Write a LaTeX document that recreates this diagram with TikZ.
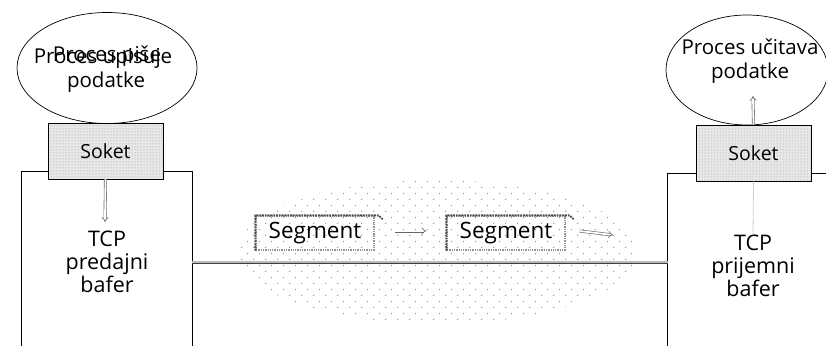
\documentclass[tikz,border=0pt]{standalone}
\usepackage{fontspec}
\setmainfont{Open Sans}
\usetikzlibrary{shapes.geometric,patterns,patterns.meta,arrows.meta,calc}

% sparse stipple used for the network cloud
\tikzdeclarepattern{
  name=sparsedots, type=uncolored,
  bounding box={(0pt,0pt) and (12pt,12pt)},
  tile size={(12pt,12pt)},
  code={
    \fill (2pt,3pt) circle (0.7pt);
    \fill (8pt,9pt) circle (0.65pt);
  }
}

\tikzset{
  txt/.style={font=\fontsize{20.5}{24}\selectfont, align=center, inner sep=0pt},
  buftxt/.style={font=\fontsize{21.5}{23}\selectfont, align=center, inner sep=0pt},
  proc/.style={ellipse, draw, line width=0.7pt, inner sep=0pt},
  sockbox/.style={draw, line width=0.9pt, minimum width=115pt, minimum height=56pt,
    inner sep=0pt, font=\fontsize{19.5}{23}\selectfont,
    preaction={fill=white}, preaction={fill=gray!18},
    pattern=dots, pattern color=gray!85},
  buf/.style={inner sep=0pt},
  segbox/.style={draw=gray!85, densely dotted, line width=1.3pt,
    minimum width=118pt, minimum height=34pt, inner sep=0pt,
    font=\fontsize{22.5}{26}\selectfont},
  segedge/.style={draw=black!70, densely dotted, line width=1.8pt},
  flow/.style={draw=black!60, double=white, double distance=1.8pt, line width=0.6pt,
    -{Implies[length=6pt]}},
  link/.style={draw=black!75, double=gray!55, double distance=1.6pt, line width=0.7pt},
}

\begin{document}
\begin{tikzpicture}[x=1pt, y=-1pt]
\useasboundingbox (0,0) rectangle (826,345);

% network cloud
\fill[pattern=sparsedots, pattern color=gray!95] (437,252) ellipse [x radius=200, y radius=72];

% sending side
\node[buf, minimum width=170pt, minimum height=180pt] (lbuf) at (107,262) {};
\draw[line width=0.9pt] (lbuf.south west) -- (lbuf.north west) -- (lbuf.north east) -- (lbuf.south east);
\draw[gray!55, line width=0.6pt] ([yshift=-10pt]lbuf.south west) -- ([yshift=-10pt]lbuf.south east);

\node[proc, minimum width=180pt, minimum height=111pt] (pw) at (107,68) {};
\node[txt] (pw1) at (103,58) {Proces upisuje};
\node[txt] (pw2) at (107,56) {Proces piše};
\node[txt] (pw3) at (106,82) {podatke};
\node[sockbox] (lsok) at (105.5,151) {Soket};
\node[buftxt] (ltxt) at (107,262) {TCP\\predajni\\bafer};
\coordinate (ldrop) at (105,222);

% receiving side
\node[buf, minimum width=200pt, minimum height=176pt] (rbuf) at (768,262) {};
\draw[line width=0.9pt] (rbuf.south west) -- (rbuf.north west) -- (rbuf.north east);

\node[proc, minimum width=162pt, minimum height=110pt] (pr) at (747,70) {};
\node[txt] (pr1) at (750,61) {Proces učitava\\podatke};
\node[sockbox] (rsok) at (753.5,153) {Soket};
\node[buftxt] (rtxt) at (753,266) {TCP\\prijemni\\bafer};
\coordinate (rrise) at (753,96);

% link between the buffers
\draw[link] (lbuf.east) -- (rbuf.west);

% segments in transit, with a heavier top and left edge
\node[segbox] (s1) at (315,233) {Segment};
\node[segbox] (s2) at (506,233) {Segment};
\draw[segedge] (s1.south west) -- (s1.north west) -- ([xshift=4pt]s1.north east) -- ([xshift=8pt, yshift=-4pt]s1.north east);
\draw[segedge] (s2.south west) -- (s2.north west) -- ([xshift=4pt]s2.north east) -- ([xshift=8pt, yshift=-4pt]s2.north east);
\coordinate (sout) at (613,235);

% data flow
\draw[flow] (lsok.south) -- (ldrop);
\draw[flow] (rsok.north) -- (rrise);
\draw[gray!75, densely dotted, line width=0.8pt] (rsok.south) -- (rtxt.north);
\draw[flow] ([xshift=20pt, yshift=2pt]s1.east) -- ([xshift=-20pt, yshift=2pt]s2.west);
\draw[flow] ([xshift=14pt, yshift=2pt]s2.east) -- (sout);
\end{tikzpicture}
\end{document}
